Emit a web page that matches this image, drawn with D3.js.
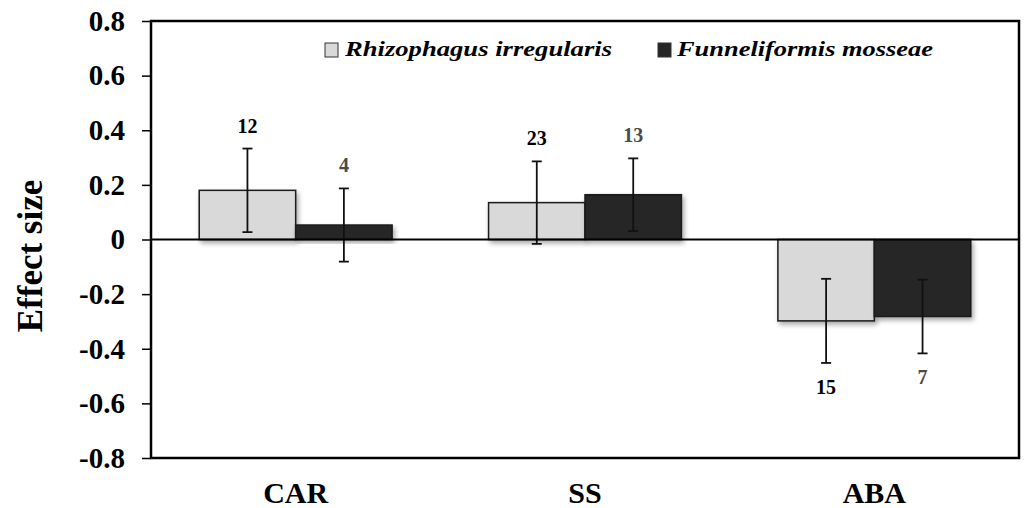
<!DOCTYPE html>
<html>
<head>
<meta charset="utf-8">
<script src="https://cdn.jsdelivr.net/npm/d3@7/dist/d3.min.js"></script>
<style>
  body { margin: 0; background: #fff; }
  svg { display: block; font-family: "Liberation Serif", "Times New Roman", serif; }
</style>
</head>
<body>
<div id="chart"></div>
<script>
var categories = ["CAR", "SS", "ABA"];
var seriesNames = ["Rhizophagus irregularis", "Funneliformis mosseae"];
var riValues = [0.18, 0.135, -0.298];
var fmValues = [0.053, 0.164, -0.282];
var riErrors = [0.153, 0.151, 0.154];
var fmErrors = [0.134, 0.133, 0.135];
var riCounts = ["12", "23", "15"];
var fmCounts = ["4", "13", "7"];
var yTicks = [0.8, 0.6, 0.4, 0.2, 0, -0.2, -0.4, -0.6, -0.8];

var colors = ["#d9d9d9", "#262626"];
var countColors = ["#000", "#4a4a4a"];

function drawChart() {
    var svgWidth = 1024, svgHeight = 508;
    var left = 151, right = 1019, top = 21, bottom = 458;
    var serif = "Liberation Serif, Times New Roman, serif";

    var svg = d3.select("#chart").append("svg")
        .attr("width", svgWidth)
        .attr("height", svgHeight);

    var defs = svg.append("defs");
    var f = defs.append("filter").attr("id", "shadow")
        .attr("x", "-10%").attr("y", "-10%").attr("width", "130%").attr("height", "140%");
    f.append("feDropShadow").attr("dx", 2).attr("dy", 3).attr("stdDeviation", 2.5)
        .attr("flood-color", "#000").attr("flood-opacity", 0.35);

    var y = d3.scaleLinear().domain([-0.8, 0.8]).range([bottom, top]);
    var x0 = d3.scaleBand().domain(categories).range([left, right])
        .paddingInner(1 / 3).paddingOuter(1 / 6);
    var x1 = d3.scaleBand().domain([0, 1]).range([0, x0.bandwidth()]);

    var rows = categories.map(function(c, i) {
        return {
            cat: c,
            bars: [
                { s: 0, v: riValues[i], e: riErrors[i], n: riCounts[i] },
                { s: 1, v: fmValues[i], e: fmErrors[i], n: fmCounts[i] }
            ]
        };
    });

    // y axis, hyphen minus like the original
    var yAxis = svg.append("g")
        .attr("transform", "translate(" + left + ",0)")
        .call(d3.axisLeft(y).tickValues(yTicks)
            .tickFormat(function(d) { return d === 0 ? "0" : (d < 0 ? "-" : "") + Math.abs(d).toFixed(1); })
            .tickSize(9).tickPadding(17));
    yAxis.select(".domain").remove();
    yAxis.selectAll("line").attr("stroke", "#000").attr("stroke-width", 1.5);
    yAxis.selectAll("text")
        .attr("font-family", serif)
        .attr("font-size", 29).attr("font-weight", "bold").attr("fill", "#000");

    // bars
    var groups = svg.selectAll(".cat").data(rows).enter().append("g")
        .attr("class", "cat")
        .attr("transform", function(d) { return "translate(" + x0(d.cat) + ",0)"; });

    groups.selectAll("rect").data(function(d) { return d.bars; }).enter().append("rect")
        .attr("x", function(d) { return x1(d.s); })
        .attr("width", x1.bandwidth())
        .attr("y", function(d) { return y(Math.max(0, d.v)); })
        .attr("height", function(d) { return Math.abs(y(d.v) - y(0)); })
        .attr("fill", function(d) { return colors[d.s]; })
        .attr("stroke", "#1a1a1a")
        .attr("stroke-width", 1.5)
        .attr("filter", "url(#shadow)");

    // zero line
    svg.append("line")
        .attr("x1", left).attr("x2", right)
        .attr("y1", y(0)).attr("y2", y(0))
        .attr("stroke", "#000").attr("stroke-width", 2);

    // error bars
    var err = groups.selectAll(".err").data(function(d) { return d.bars; }).enter().append("g")
        .attr("class", "err")
        .attr("transform", function(d) { return "translate(" + (x1(d.s) + x1.bandwidth() / 2) + ",0)"; });
    err.append("line")
        .attr("y1", function(d) { return y(d.v + d.e); })
        .attr("y2", function(d) { return y(d.v - d.e); })
        .attr("stroke", "#111").attr("stroke-width", 1.8);
    err.selectAll(".cap").data(function(d) { return [d.v + d.e, d.v - d.e]; }).enter().append("line")
        .attr("x1", -5).attr("x2", 5)
        .attr("y1", function(d) { return y(d); })
        .attr("y2", function(d) { return y(d); })
        .attr("stroke", "#111").attr("stroke-width", 1.8);

    // count labels
    err.append("text")
        .attr("text-anchor", "middle")
        .attr("y", function(d) {
            return d.v >= 0 ? y(d.v + d.e) - 16 : y(d.v - d.e) + 31;
        })
        .attr("font-size", 20).attr("font-weight", "bold")
        .attr("fill", function(d) { return countColors[d.s]; })
        .text(function(d) { return d.n; });

    // frame
    svg.append("rect")
        .attr("x", left).attr("y", top)
        .attr("width", right - left).attr("height", bottom - top)
        .attr("fill", "none").attr("stroke", "#000").attr("stroke-width", 2.5);

    // x labels
    svg.selectAll(".xlab").data(categories).enter().append("text")
        .attr("class", "xlab")
        .attr("x", function(d) { return x0(d) + x0.bandwidth() / 2; })
        .attr("y", 503)
        .attr("text-anchor", "middle")
        .attr("font-size", 30).attr("font-weight", "bold")
        .text(function(d) { return d; });

    // y title
    svg.append("text")
        .attr("transform", "translate(42,256) rotate(-90)")
        .attr("text-anchor", "middle")
        .attr("font-size", 35).attr("font-weight", "bold")
        .text("Effect size");

    // legend
    var legendX = [325, 658];
    var legendLen = [267, 256];
    var legend = svg.selectAll(".legend").data(seriesNames).enter().append("g")
        .attr("class", "legend")
        .attr("transform", function(d, i) { return "translate(" + legendX[i] + ",43)"; });
    legend.append("rect")
        .attr("width", 13).attr("height", 14)
        .attr("fill", function(d, i) { return colors[i]; })
        .attr("stroke", "#333").attr("stroke-width", 1);
    legend.append("text")
        .attr("x", function(d, i) { return i === 0 ? 20 : 19; })
        .attr("y", 13)
        .attr("font-size", 20).attr("font-weight", "bold").attr("font-style", "italic")
        .attr("textLength", function(d, i) { return legendLen[i]; })
        .attr("lengthAdjust", "spacingAndGlyphs")
        .text(function(d) { return d; });
}

drawChart();
</script>
</body>
</html>
